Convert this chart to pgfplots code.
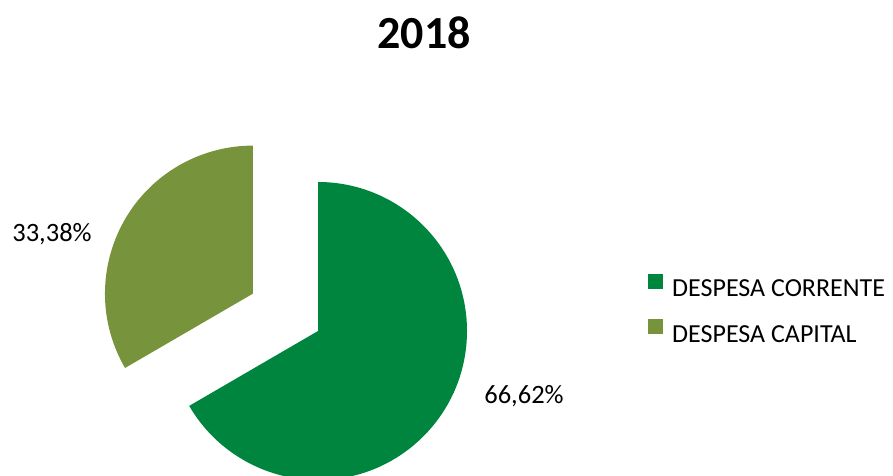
\documentclass[border=0pt]{standalone}
\usepackage{pgfplots}
\pgfplotsset{compat=1.18}
\usepackage{fontspec}
\setmainfont{Carlito}
\definecolor{corrente}{HTML}{00853E}
\definecolor{capital}{HTML}{77933C}
% data (percent)
\def\valA{66.62}% DESPESA CORRENTE
\def\valB{33.38}% DESPESA CAPITAL
\begin{document}
\begin{tikzpicture}
\useasboundingbox (0,0) rectangle (893pt,475pt);
\clip (0,0) rectangle (893pt,475pt);
\pgfmathsetmacro\angA{360*(\valA/(\valA+\valB))}
\pgfmathsetmacro\endA{90-\angA}
\pgfmathsetmacro\startB{450-\angA}
\pgfmathsetmacro\midB{(\startB+90)/2}
\pgfmathsetmacro\cBx{318+75*cos(\midB)}
\pgfmathsetmacro\cBy{144+75*sin(\midB)}
\begin{axis}[at={(0,0)}, anchor=south west, scale only axis,
  width=893pt, height=475pt, xmin=0, xmax=893, ymin=0, ymax=475,
  hide axis, clip=false,
  legend style={at={(axis cs:645,203)}, anchor=north west, draw=none, fill=none,
    font=\fontsize{26}{28}\selectfont, row sep=19pt},
  legend cell align=left]
\addlegendimage{legend image code/.code={\path[draw=none,fill=none] (0pt,0pt) -- (22pt,0pt);\fill[corrente,draw=none] (0pt,0pt) rectangle (15pt,15pt);}}
\addlegendentry{DESPESA CORRENTE}
\addlegendimage{legend image code/.code={\path[draw=none,fill=none] (0pt,0pt) -- (22pt,0pt);\fill[capital,draw=none] (0pt,0pt) rectangle (15pt,15pt);}}
\addlegendentry{DESPESA CAPITAL}
% slice 1
\fill[corrente] (axis cs:318,144) -- (axis cs:318,293)
  arc[start angle=90, end angle=\endA, radius=149] -- cycle;
% slice 2 (exploded)
\fill[capital] (axis cs:\cBx,\cBy) -- (axis cs:{\cBx+148*cos(\startB)},{\cBy+148*sin(\startB)})
  arc[start angle=\startB, end angle=90, radius=148] -- cycle;
\node[font=\bfseries\fontsize{46}{50}\selectfont] at (axis cs:424,442) {2018};
\node[font=\fontsize{26.5}{30}\selectfont] at (axis cs:52,241) {33,38\%};
\node[font=\fontsize{26.5}{30}\selectfont] at (axis cs:524,79) {66,62\%};
\end{axis}
\end{tikzpicture}
\end{document}
